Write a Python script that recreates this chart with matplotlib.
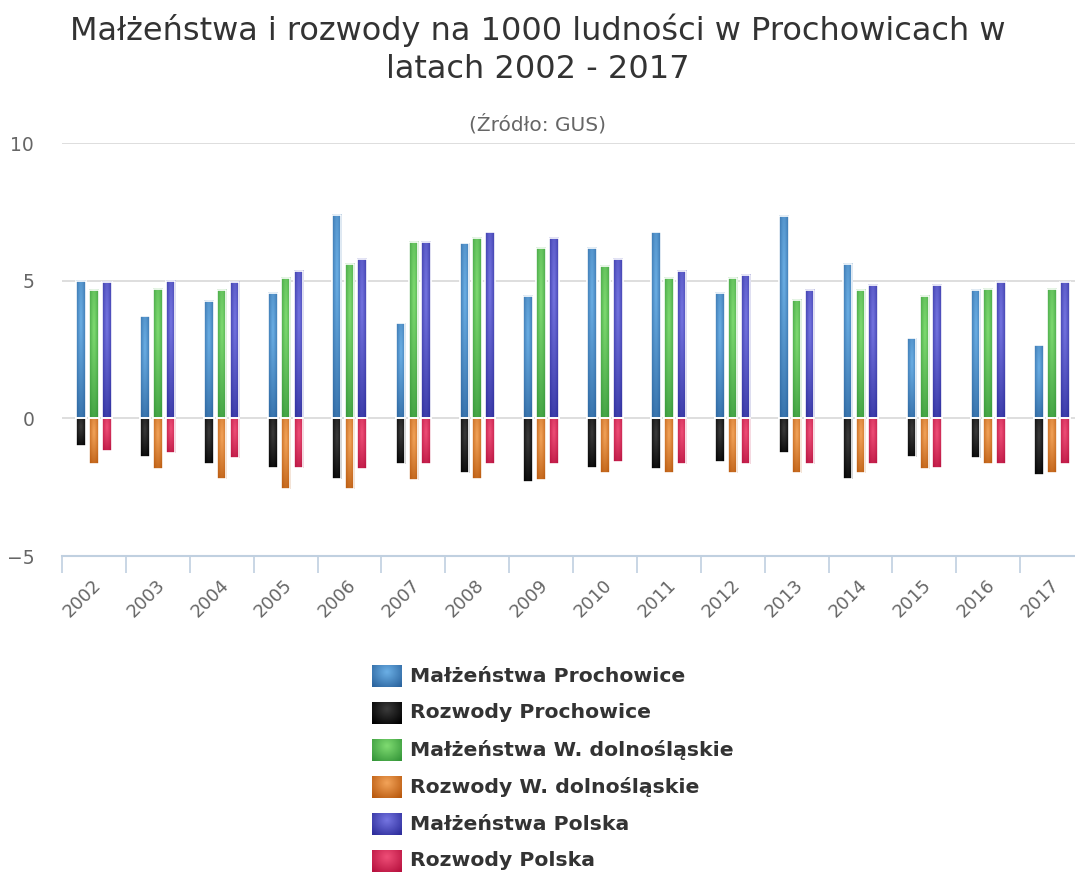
import numpy as np
import matplotlib
matplotlib.use("Agg")
from matplotlib import pyplot as plt
from matplotlib.colors import to_rgb

years = [str(y) for y in range(2002, 2018)]

malz_prochowice = [5.0, 3.7, 4.25, 4.55, 7.4, 3.45, 6.35, 4.45, 6.2, 6.75, 4.55, 7.35, 5.6, 2.9, 4.65, 2.65]
rozw_prochowice = [-1.0, -1.4, -1.65, -1.8, -2.2, -1.65, -2.0, -2.3, -1.8, -1.85, -1.6, -1.25, -2.2, -1.4, -1.45, -2.05]
malz_dolnoslaskie = [4.65, 4.7, 4.65, 5.1, 5.6, 6.4, 6.55, 6.2, 5.55, 5.1, 5.1, 4.3, 4.65, 4.45, 4.7, 4.7]
rozw_dolnoslaskie = [-1.65, -1.85, -2.2, -2.55, -2.55, -2.25, -2.2, -2.25, -2.0, -2.0, -2.0, -2.0, -2.0, -1.85, -1.65, -2.0]
malz_polska = [4.95, 5.0, 4.95, 5.35, 5.8, 6.4, 6.75, 6.55, 5.8, 5.35, 5.2, 4.65, 4.85, 4.85, 4.95, 4.95]
rozw_polska = [-1.2, -1.25, -1.45, -1.8, -1.85, -1.65, -1.65, -1.65, -1.6, -1.65, -1.65, -1.65, -1.65, -1.8, -1.65, -1.65]

series_names = ["Małżeństwa Prochowice", "Rozwody Prochowice",
                "Małżeństwa W. dolnośląskie", "Rozwody W. dolnośląskie",
                "Małżeństwa Polska", "Rozwody Polska"]
series_values = [malz_prochowice, rozw_prochowice, malz_dolnoslaskie,
                 rozw_dolnoslaskie, malz_polska, rozw_polska]
# (light centre, dark edge)
series_colors = [("#6cb0e6", "#2c659f"), ("#3c3c3c", "#000000"),
                 ("#80dc72", "#36973a"), ("#f3a45a", "#b9590e"),
                 ("#7676e2", "#2e2e9c"), ("#ef4f78", "#b8123f")]
# column slot within a year group (positive and negative share a slot)
slots = [-1, -1, 0, 0, 1, 1]
y_ticks = [-5, 0, 5, 10]
y_labels = ["\u22125", "0", "5", "10"]


def gradient(light, dark, nx=20, ny=60):
    u = np.linspace(0, 1, nx)[None, :]
    v = np.linspace(0, 1, ny)[:, None]
    d = np.clip(np.sqrt(((u - 0.5) / 0.7) ** 2 + ((v - 0.3) / 0.9) ** 2), 0, 1)
    l = np.array(to_rgb(light))
    k = np.array(to_rgb(dark))
    return l[None, None, :] * (1 - d[..., None]) + k[None, None, :] * d[..., None]


W, H = 1075, 873
fig = plt.figure(figsize=(W / 100, H / 100), dpi=100)
fig.patch.set_facecolor("white")

# plot area in pixels: x 62..1084, y 143 (10) .. 556 (-5)
ax = fig.add_axes([62 / W, (H - 556) / H, (1084 - 62) / W, (556 - 143) / H])
ax.set_facecolor("none")

bar_w = 0.15
step = 0.2
x = np.arange(len(years))
for vals, (light, dark), slot in zip(series_values, series_colors, slots):
    img = gradient(light, dark)
    xs = x + slot * step
    for xi, v in zip(xs, vals):
        y0, y1 = (0, v) if v >= 0 else (v, 0)
        ax.imshow(img, extent=(xi - bar_w / 2, xi + bar_w / 2, y0, y1),
                  aspect="auto", origin="upper", zorder=2, interpolation="bilinear")
    ax.bar(xs, vals, width=bar_w, color="none", edgecolor="white", linewidth=1.2, zorder=3)

ax.set_xlim(-0.5, len(years) - 0.5)
ax.set_ylim(-5, 10)

for yv in [0, 5, 10]:
    ax.axhline(yv, color="#d8d8d8", linewidth=1.2, zorder=1)

for s in ["top", "right", "left"]:
    ax.spines[s].set_visible(False)
ax.spines["bottom"].set_color("#c0d0e0")
ax.spines["bottom"].set_linewidth(1.5)

ax.set_yticks(y_ticks)
ax.set_yticklabels(y_labels)
ax.tick_params(axis="y", length=0, pad=20, labelsize=13.5, labelcolor="#666666")

ax.set_xticks(np.arange(len(years) + 1) - 0.5)
ax.set_xticklabels([])
ax.tick_params(axis="x", length=12, width=1.2, color="#c0d0e0")
for xi, lab in zip(x, years):
    ax.annotate(lab, xy=(xi, -5), xytext=(3, -19), textcoords="offset points",
                rotation=45, ha="right", va="center", rotation_mode="anchor",
                fontsize=13, color="#666666")

fig.text(0.5, 1 - 30 / H, "Małżeństwa i rozwody na 1000 ludności w Prochowicach w",
         ha="center", va="center", fontsize=23, color="#333333")
fig.text(0.5, 1 - 69 / H, "latach 2002 - 2017",
         ha="center", va="center", fontsize=23, color="#333333")
fig.text(0.5, 1 - 124 / H, "(Źródło: GUS)", ha="center", va="center",
         fontsize=14.5, color="#666666")

# legend drawn in pixel coordinates
lax = fig.add_axes([0, 0, 1, 1])
lax.axis("off")
lax.patch.set_alpha(0)
for i, (name, (light, dark)) in enumerate(zip(series_names, series_colors)):
    yc = 676 + i * 37
    lax.imshow(gradient(light, dark, 20, 20), extent=(372, 402, yc + 11, yc - 11),
               aspect="auto", interpolation="bilinear")
    lax.text(410, yc, name, ha="left", va="center", fontsize=14.7,
             fontweight="bold", color="#333333")
lax.set_xlim(0, W)
lax.set_ylim(H, 0)

fig.savefig("out.png", dpi=100)
